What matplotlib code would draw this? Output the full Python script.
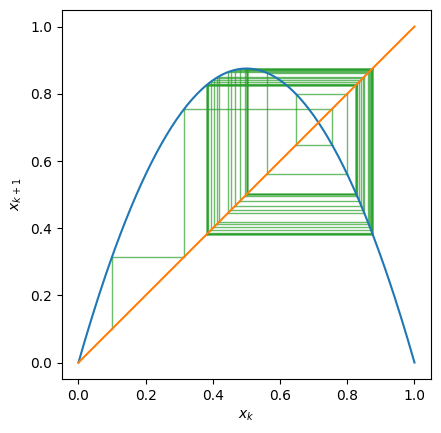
import numpy as np
import matplotlib
matplotlib.use("Agg")
import matplotlib.pyplot as plt

# logistic map parameters (peak at 0.875 -> r = 3.5)
r = 3.5
x0 = 0.1
n_iter = 50


def f(x):
    return r * x * (1 - x)


x = np.linspace(0, 1, 200)

fig, ax = plt.subplots()

# cobweb
xk = x0
yk = x0
for k in range(n_iter):
    y_next = f(xk)
    ax.plot([xk, xk], [yk, y_next], color="C2", alpha=0.7, lw=1, zorder=1)
    ax.plot([xk, y_next], [y_next, y_next], color="C2", alpha=0.7, lw=1, zorder=1)
    xk = y_next
    yk = y_next

ax.plot(x, f(x), color="C0", lw=1.5, zorder=2)
ax.plot([0, 1], [0, 1], color="C1", lw=1.5, zorder=3)

ax.set_aspect("equal")
ax.set_xlabel("$x_k$")
ax.set_ylabel("$x_{k+1}$")

plt.savefig("out.png", dpi=100, bbox_inches="tight")
